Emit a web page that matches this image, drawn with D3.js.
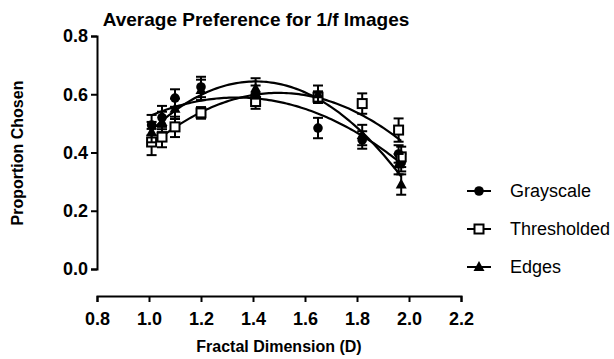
<!DOCTYPE html>
<html>
<head>
<meta charset="utf-8">
<script src="https://cdn.jsdelivr.net/npm/d3@7"></script>
<style>
  body { margin: 0; background: #fff; }
  text { font-family: "Liberation Sans", Arial, sans-serif; }
</style>
</head>
<body>
<script>
// values
const dims = [1.01, 1.05, 1.10, 1.20, 1.41, 1.65, 1.82, 1.96, 1.97];
const grayscale = [0.494, 0.520, 0.587, 0.625, 0.600, 0.484, 0.443, 0.395, 0.365];
const grayErr = [0.035, 0.040, 0.030, 0.035, 0.030, 0.035, 0.030, 0.030, 0.030];
const thresholded = [0.436, 0.453, 0.488, 0.536, 0.575, 0.590, 0.568, 0.477, 0.385];
const threshErr = [0.045, 0.035, 0.035, 0.020, 0.025, 0.020, 0.035, 0.040, 0.035];
const edges = [0.470, 0.505, 0.550, 0.615, 0.620, 0.600, 0.460, 0.360, 0.290];
const edgesErr = [0.035, 0.035, 0.035, 0.035, 0.035, 0.030, 0.035, 0.035, 0.035];
const xTicks = [0.8, 1.0, 1.2, 1.4, 1.6, 1.8, 2.0, 2.2];
const yTicks = [0.0, 0.2, 0.4, 0.6, 0.8];
const seriesNames = ["Grayscale", "Thresholded", "Edges"];

const svg = d3.select("body").append("svg")
    .attr("width", 614)
    .attr("height", 359);

const x = d3.scaleLinear().domain([0.8, 2.2]).range([97, 461]);
const y = d3.scaleLinear().domain([0, 0.8]).range([269, 36]);

// second order polynomial least squares fit
function quadFit(xs, ys) {
    let s = [0, 0, 0, 0, 0], t = [0, 0, 0];
    xs.forEach((xv, i) => {
        for (let k = 0; k < 5; k++) s[k] += Math.pow(xv, k);
        for (let k = 0; k < 3; k++) t[k] += ys[i] * Math.pow(xv, k);
    });
    const m = [[s[0], s[1], s[2], t[0]], [s[1], s[2], s[3], t[1]], [s[2], s[3], s[4], t[2]]];
    for (let i = 0; i < 3; i++) {
        for (let j = i + 1; j < 3; j++) {
            const f = m[j][i] / m[i][i];
            for (let k = i; k < 4; k++) m[j][k] -= f * m[i][k];
        }
    }
    const c = [0, 0, 0];
    for (let i = 2; i >= 0; i--) {
        let v = m[i][3];
        for (let k = i + 1; k < 3; k++) v -= m[i][k] * c[k];
        c[i] = v / m[i][i];
    }
    return c;
}

// axes
const yAxis = d3.axisLeft(y).tickValues(yTicks).tickFormat(d3.format(".1f")).tickSizeOuter(0).tickSize(6);
const xAxis = d3.axisBottom(x).tickValues(xTicks).tickFormat(d3.format(".1f")).tickSizeOuter(0).tickSize(6);

const gy = svg.append("g").attr("transform", "translate(97,0)").call(yAxis);
const gx = svg.append("g").attr("transform", "translate(0,296)").call(xAxis);
[gy, gx].forEach(g => {
    g.select(".domain").attr("stroke", "#000").attr("stroke-width", 2);
    g.selectAll(".tick line").attr("stroke", "#000").attr("stroke-width", 2);
    g.selectAll(".tick text")
        .attr("fill", "#000")
        .attr("font-size", 18)
        .attr("font-weight", "bold")
        .attr("font-family", "Liberation Sans, Arial, sans-serif");
});
gy.selectAll(".tick text").attr("x", -9);
gx.selectAll(".tick text").attr("y", 16);

// titles
svg.append("text")
    .attr("x", 256).attr("y", 26)
    .attr("text-anchor", "middle")
    .attr("font-size", 19).attr("font-weight", "bold")
    .text("Average Preference for 1/f Images");

svg.append("text")
    .attr("x", 279).attr("y", 352)
    .attr("text-anchor", "middle")
    .attr("font-size", 16).attr("font-weight", "bold")
    .text("Fractal Dimension (D)");

svg.append("text")
    .attr("transform", "translate(23,153) rotate(-90)")
    .attr("text-anchor", "middle")
    .attr("font-size", 16).attr("font-weight", "bold")
    .text("Proportion Chosen");

const series = [
    { name: seriesNames[0], vals: grayscale, err: grayErr, shape: "circle" },
    { name: seriesNames[1], vals: thresholded, err: threshErr, shape: "square" },
    { name: seriesNames[2], vals: edges, err: edgesErr, shape: "triangle" }
];

function drawMarker(g, shape, cx, cy) {
    if (shape === "circle") {
        g.append("circle").attr("cx", cx).attr("cy", cy).attr("r", 4.8).attr("fill", "#000");
    } else if (shape === "square") {
        g.append("rect").attr("x", cx - 4.5).attr("y", cy - 4.5).attr("width", 9).attr("height", 9)
            .attr("fill", "#fff").attr("stroke", "#000").attr("stroke-width", 2);
    } else {
        g.append("path").attr("d", `M${cx},${cy - 6}L${cx + 5.5},${cy + 4}L${cx - 5.5},${cy + 4}Z`)
            .attr("fill", "#000");
    }
}

// fitted curves
const line = d3.line().x(d => x(d[0])).y(d => y(d[1]));
series.forEach(s => {
    const c = quadFit(dims, s.vals);
    const x0 = d3.min(dims), x1 = d3.max(dims);
    const pts = d3.range(0, 101).map(i => {
        const xv = x0 + (x1 - x0) * i / 100;
        return [xv, c[0] + c[1] * xv + c[2] * xv * xv];
    });
    svg.append("path").datum(pts)
        .attr("d", line)
        .attr("fill", "none").attr("stroke", "#000").attr("stroke-width", 2.2);
});

// error bars and markers
series.forEach(s => {
    const g = svg.append("g");
    s.vals.forEach((v, i) => {
        const cx = x(dims[i]);
        const top = y(v + s.err[i]), bot = y(v - s.err[i]);
        g.append("line").attr("x1", cx).attr("x2", cx).attr("y1", top).attr("y2", bot)
            .attr("stroke", "#000").attr("stroke-width", 2);
        [top, bot].forEach(yy => {
            g.append("line").attr("x1", cx - 5).attr("x2", cx + 5).attr("y1", yy).attr("y2", yy)
                .attr("stroke", "#000").attr("stroke-width", 2);
        });
        drawMarker(g, s.shape, cx, y(v));
    });
});

// legend
series.forEach((s, i) => {
    const ly = 191 + i * 38;
    const g = svg.append("g");
    g.append("line").attr("x1", 467).attr("x2", 491).attr("y1", ly).attr("y2", ly)
        .attr("stroke", "#000").attr("stroke-width", 2);
    drawMarker(g, s.shape, 479, ly);
    g.append("text").attr("x", 510).attr("y", ly + 6)
        .attr("font-size", 18)
        .text(s.name);
});
</script>
</body>
</html>
